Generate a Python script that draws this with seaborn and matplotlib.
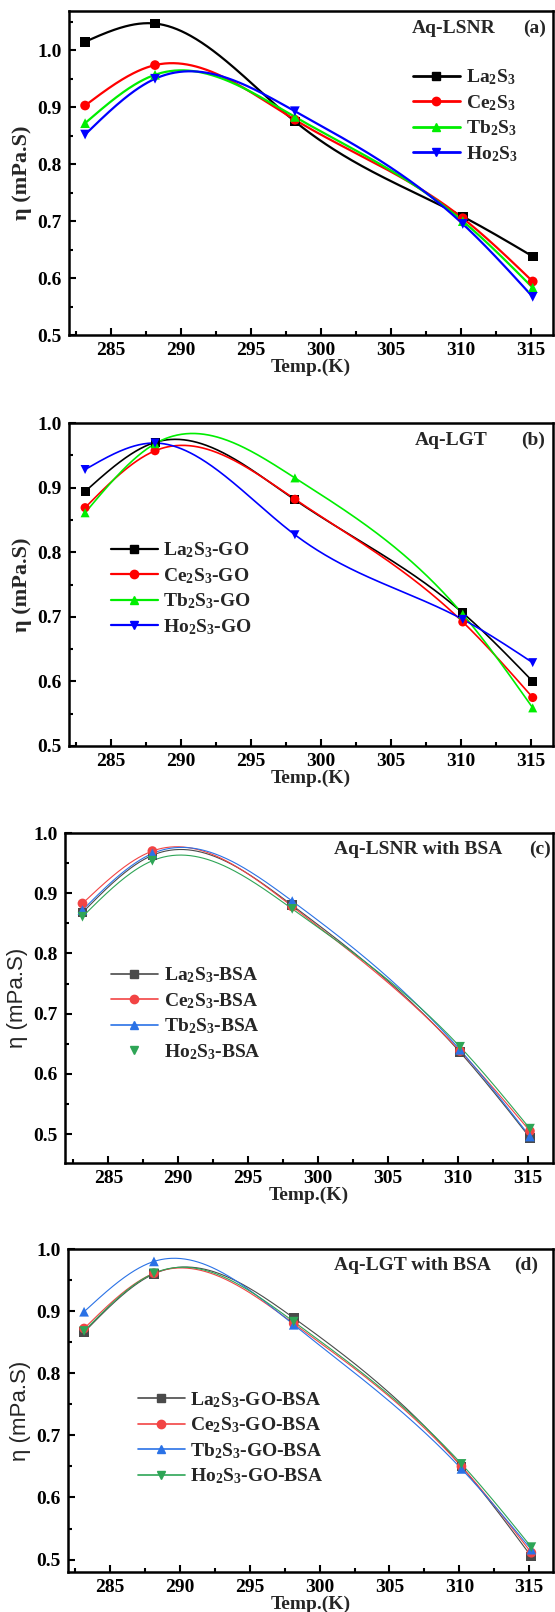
import numpy as np
import pandas as pd
import matplotlib
matplotlib.use("Agg")
import matplotlib.pyplot as plt
from matplotlib.lines import Line2D
from matplotlib.ticker import MultipleLocator
import seaborn as sns

# ---------------- data ----------------
temps = [283.15, 288.15, 298.15, 310.15, 315.15]

# (a) Aq-LSNR
a_names = ["La$_2$S$_3$", "Ce$_2$S$_3$", "Tb$_2$S$_3$", "Ho$_2$S$_3$"]
a_La = [1.015, 1.047, 0.875, 0.708, 0.638]
a_Ce = [0.903, 0.974, 0.878, 0.705, 0.594]
a_Tb = [0.872, 0.957, 0.883, 0.700, 0.583]
a_Ho = [0.852, 0.950, 0.893, 0.695, 0.567]

# (b) Aq-LGT
b_names = ["La$_2$S$_3$-GO", "Ce$_2$S$_3$-GO", "Tb$_2$S$_3$-GO", "Ho$_2$S$_3$-GO"]
b_La = [0.894, 0.970, 0.881, 0.706, 0.600]
b_Ce = [0.869, 0.957, 0.882, 0.692, 0.575]
b_Tb = [0.861, 0.968, 0.915, 0.704, 0.559]
b_Ho = [0.928, 0.969, 0.827, 0.696, 0.629]

# (c) Aq-LSNR with BSA
c_names = ["La$_2$S$_3$-BSA", "Ce$_2$S$_3$-BSA", "Tb$_2$S$_3$-BSA", "Ho$_2$S$_3$-BSA"]
c_La = [0.868, 0.963, 0.880, 0.636, 0.494]
c_Ce = [0.883, 0.970, 0.878, 0.638, 0.505]
c_Tb = [0.872, 0.966, 0.887, 0.640, 0.496]
c_Ho = [0.861, 0.954, 0.874, 0.645, 0.509]

# (d) Aq-LGT with BSA
d_names = ["La$_2$S$_3$-GO-BSA", "Ce$_2$S$_3$-GO-BSA", "Tb$_2$S$_3$-GO-BSA", "Ho$_2$S$_3$-GO-BSA"]
d_La = [0.866, 0.960, 0.889, 0.650, 0.505]
d_Ce = [0.872, 0.961, 0.880, 0.650, 0.511]
d_Tb = [0.899, 0.980, 0.878, 0.646, 0.516]
d_Ho = [0.868, 0.961, 0.883, 0.654, 0.520]

titles = ["Aq-LSNR", "Aq-LGT", "Aq-LSNR with BSA", "Aq-LGT with BSA"]
tags = ["(a)", "(b)", "(c)", "(d)"]
markers = ["s", "o", "^", "v"]
colors_ab = ["#000000", "#ff0000", "#00ee00", "#0000ff"]
colors_cd = ["#4a4a4a", "#f24444", "#2a72e6", "#2ea556"]

# ---------------- style ----------------
sns.set_style("ticks")
plt.rcParams["font.family"] = ["Liberation Serif", "DejaVu Serif"]
plt.rcParams["font.weight"] = "bold"
plt.rcParams["mathtext.fontset"] = "custom"
plt.rcParams["mathtext.rm"] = "Liberation Serif:bold"
plt.rcParams["mathtext.it"] = "Liberation Serif:bold"
plt.rcParams["mathtext.bf"] = "Liberation Serif:bold"
plt.rcParams["mathtext.default"] = "rm"


def natural_spline(x, y, xs):
    x = np.asarray(x, float); y = np.asarray(y, float)
    n = len(x)
    h = np.diff(x)
    A = np.zeros((n, n)); r = np.zeros(n)
    A[0, 0] = 1; A[-1, -1] = 1
    for i in range(1, n - 1):
        A[i, i - 1] = h[i - 1]
        A[i, i] = 2 * (h[i - 1] + h[i])
        A[i, i + 1] = h[i]
        r[i] = 6 * ((y[i + 1] - y[i]) / h[i] - (y[i] - y[i - 1]) / h[i - 1])
    M = np.linalg.solve(A, r)
    idx = np.clip(np.searchsorted(x, xs) - 1, 0, n - 2)
    x0 = x[idx]; x1 = x[idx + 1]; hh = h[idx]
    t0 = x1 - xs; t1 = xs - x0
    return (M[idx] * t0 ** 3 / (6 * hh) + M[idx + 1] * t1 ** 3 / (6 * hh)
            + (y[idx] / hh - M[idx] * hh / 6) * t0
            + (y[idx + 1] / hh - M[idx + 1] * hh / 6) * t1)


W, H = 555, 1612
fig = plt.figure(figsize=(W / 100, H / 100), dpi=100)

# axes boxes in pixels: left, right, top, bottom
boxes = [(69, 553, 11, 335), (69, 553, 423, 746), (65, 553, 833, 1163), (68, 553, 1249, 1572)]
ylims = [(0.5, 1.069), (0.5, 1.0), (0.452, 1.0), (0.48, 1.0)]
xlims = [(282.0, 316.6), (282.0, 316.6), (281.9, 316.8), (282.0, 316.7)]

panels = [
    (a_names, [a_La, a_Ce, a_Tb, a_Ho], colors_ab, 1.6, 7.0),
    (b_names, [b_La, b_Ce, b_Tb, b_Ho], colors_ab, 1.2, 6.5),
    (c_names, [c_La, c_Ce, c_Tb, c_Ho], colors_cd, 0.8, 7.0),
    (d_names, [d_La, d_Ce, d_Tb, d_Ho], colors_cd, 0.8, 7.0),
]

# legend placement (data coords of upper-left), title placement (axes coords)
leg_anchor = [(306.6, 0.970), (285.0, 0.818), (285.2, 0.780), (287.0, 0.773)]
title_pos = [(0.709, 0.945), (0.715, 0.945), (0.552, 0.95), (0.549, 0.95)]
tag_pos = [(0.961, 0.945), (0.959, 0.945), (0.973, 0.95), (0.944, 0.95)]

xs = np.linspace(temps[0], temps[-1], 400)

for k, (names, series, cols, lw, ms) in enumerate(panels):
    l, r, t, b = boxes[k]
    ax = fig.add_axes([l / W, 1 - b / H, (r - l) / W, (b - t) / H])

    pts = pd.DataFrame({
        "T": np.tile(temps, 4),
        "eta": np.concatenate(series),
        "sample": np.repeat(names, len(temps)),
    })
    curves = pd.DataFrame({
        "T": np.tile(xs, 4),
        "eta": np.concatenate([natural_spline(temps, s, xs) for s in series]),
        "sample": np.repeat(names, len(xs)),
    })
    pal = dict(zip(names, cols))
    sns.lineplot(data=curves, x="T", y="eta", hue="sample", palette=pal,
                 linewidth=lw, legend=False, ax=ax, sort=False, estimator=None)
    sns.scatterplot(data=pts, x="T", y="eta", hue="sample", style="sample",
                    markers=dict(zip(names, markers)), palette=pal, s=ms ** 2,
                    edgecolor=None, linewidth=0, legend=False, ax=ax, zorder=3)

    ax.set_xlim(*xlims[k])
    ax.set_ylim(*ylims[k])
    ax.xaxis.set_major_locator(MultipleLocator(5))
    ax.xaxis.set_minor_locator(MultipleLocator(2.5))
    ax.yaxis.set_major_locator(MultipleLocator(0.1))
    ax.yaxis.set_minor_locator(MultipleLocator(0.05))
    ax.tick_params(which="both", direction="in", top=False, right=False,
                   labelsize=14, width=1.5, colors="black")
    ax.tick_params(which="major", length=5, pad=5)
    ax.tick_params(which="minor", length=3)
    for lab in ax.get_xticklabels() + ax.get_yticklabels():
        lab.set_fontweight("bold")
    for sp in ax.spines.values():
        sp.set_linewidth(1.8)
        sp.set_color("black")
        sp.set_visible(True)

    ax.set_xlabel("Temp.(K)", fontsize=14, fontweight="bold", labelpad=0)
    if k < 2:
        ax.set_ylabel("η (mPa.S)", fontsize=16, fontweight="bold", labelpad=4)
    else:
        ax.set_ylabel("η (mPa.S)", fontsize=16, fontweight="normal",
                      family=["Liberation Sans", "DejaVu Sans"], labelpad=4)

    ax.text(*title_pos[k], titles[k], transform=ax.transAxes, fontsize=14,
            fontweight="bold", ha="left", va="center")
    ax.text(*tag_pos[k], tags[k], transform=ax.transAxes, fontsize=14,
            fontweight="bold", ha="center", va="center")

    handles = []
    for j, (nm, c, m) in enumerate(zip(names, cols, markers)):
        ls = "none" if (k == 2 and j == 3) else "-"
        handles.append(Line2D([], [], color=c, marker=m, linestyle=ls,
                              linewidth=lw + 0.4, markersize=6))
    ax.legend(handles, names, loc="upper left", bbox_to_anchor=leg_anchor[k],
              bbox_transform=ax.transData, frameon=False, borderpad=0,
              borderaxespad=0, handlelength=2.4, handletextpad=0.3,
              labelspacing=0.3,
              prop={"family": "Liberation Serif", "weight": "bold", "size": 14})

fig.savefig("out.png", dpi=100)
